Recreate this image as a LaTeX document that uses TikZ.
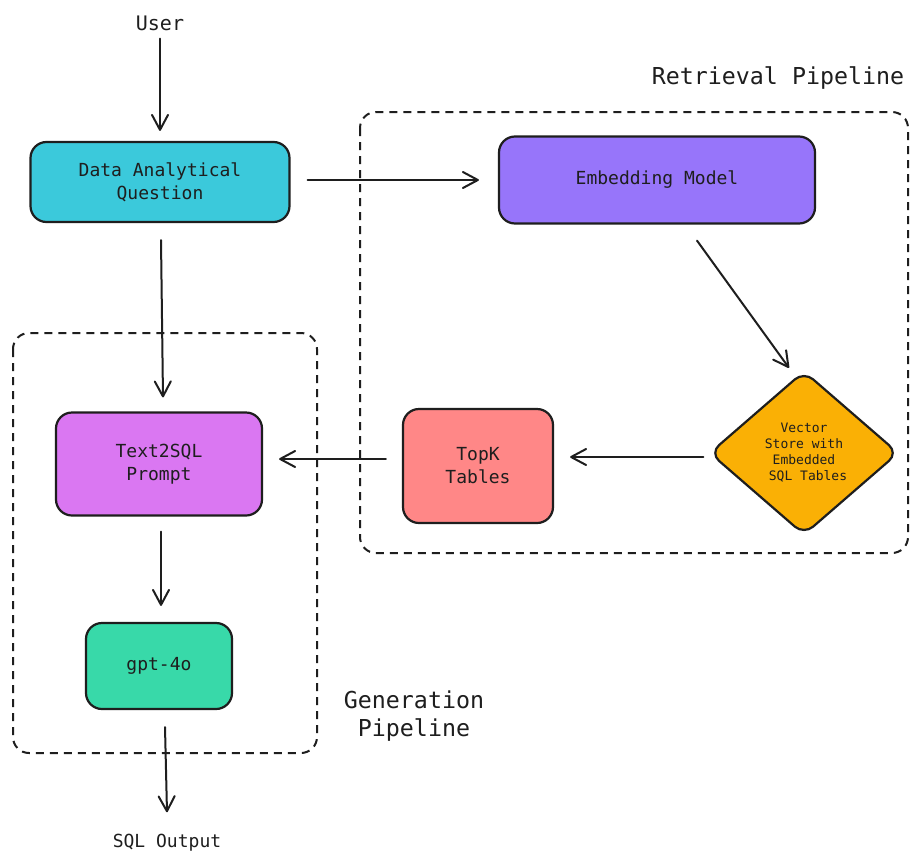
\documentclass[tikz,border=0pt]{standalone}
\usepackage{fontspec}
\setmonofont{DejaVu Sans Mono}
\usetikzlibrary{arrows.meta,shapes.geometric,calc}
\definecolor{ink}{HTML}{1E1E1E}
\definecolor{cyanfill}{HTML}{3BC9DB}
\definecolor{violetfill}{HTML}{9775FA}
\definecolor{orangefill}{HTML}{FAB005}
\definecolor{redfill}{HTML}{FF8787}
\definecolor{grapefill}{HTML}{DA77F2}
\definecolor{tealfill}{HTML}{38D9A9}
\tikzset{
  box/.style={draw=ink, line width=2.2pt, rounded corners=16pt, inner sep=0pt,
    align=center, text=ink, font=\fontsize{18}{23}\selectfont\ttfamily},
  vsdiamond/.style={diamond, draw=ink, line width=2.2pt, rounded corners=12pt, inner sep=0pt,
    align=center, text=ink, fill=orangefill, font=\fontsize{13}{16}\selectfont\ttfamily},
  lbl/.style={text=ink, inner sep=0pt},
  group/.style={draw=ink, line width=2pt, dash pattern=on 8pt off 6pt, rounded corners=16pt},
  conn/.style={draw=ink, line width=2pt, line cap=round, -{Straight Barb[length=15pt,width=16pt,line cap=round,line join=round]}}
}
\begin{document}
\begin{tikzpicture}[x=1pt,y=-1pt]
\useasboundingbox[fill=white] (0,0) rectangle (911,852);

% groups
\draw[group] (360,112) rectangle (908,553);
\draw[group] (13,333) rectangle (317,753);

% labels
\node[lbl, font=\fontsize{20}{24}\selectfont\ttfamily] (user) at (160,23) {User};
\node[lbl, font=\fontsize{23.3}{28}\selectfont\ttfamily] (retr) at (778,78) {Retrieval Pipeline};
\node[lbl, font=\fontsize{23.3}{28}\selectfont\ttfamily, align=center] (gen) at (414,716) {Generation\\Pipeline};
\node[lbl, font=\fontsize{18}{22}\selectfont\ttfamily] (sqlout) at (167,843) {SQL Output};

% nodes
\node[box, fill=cyanfill, minimum width=259pt, minimum height=80pt] (daq) at (160,182) {Data Analytical\\Question};
\node[box, fill=violetfill, minimum width=316pt, minimum height=87pt] (emb) at (657,180) {Embedding Model};
\node[vsdiamond, minimum width=189pt, minimum height=164pt] (vs) at (804,453) {Vector\\Store with\\Embedded\\\hspace*{8pt}SQL Tables};
\node[box, fill=redfill, minimum width=150pt, minimum height=114pt] (topk) at (478,466) {TopK\\Tables};
\node[box, fill=grapefill, minimum width=206pt, minimum height=103pt] (t2s) at (159,464) {Text2SQL\\Prompt};
\node[box, fill=tealfill, minimum width=146pt, minimum height=86pt] (gpt) at (159,666) {gpt-4o};

% connectors
\draw[conn] ($(user.south)+(0,8)$) -- ($(daq.north)+(0,-10)$);
\draw[conn] ($(daq.east |- 0,180)+(17,0)$) -- ($(emb.west |- 0,180)+(-19,0)$);
\draw[conn] ($(emb.south)+(40,16)$) -- ($(vs.north)+(-15,-2)$);
\draw[conn] ($(vs.west |- 0,457)+(-5,0)$) -- ($(topk.east |- 0,457)+(16,0)$);
\draw[conn] ($(topk.west |- 0,459)+(-16,0)$) -- ($(t2s.east |- 0,459)+(16,0)$);
\draw[conn] ($(daq.south)+(1,17)$) -- ($(t2s.north)+(4,-14)$);
\draw[conn] ($(t2s.south)+(2,15)$) -- ($(gpt.north)+(2,-16)$);
\draw[conn] ($(gpt.south)+(6,17)$) -- ($(sqlout.north)+(0,-22)$);
\end{tikzpicture}
\end{document}
